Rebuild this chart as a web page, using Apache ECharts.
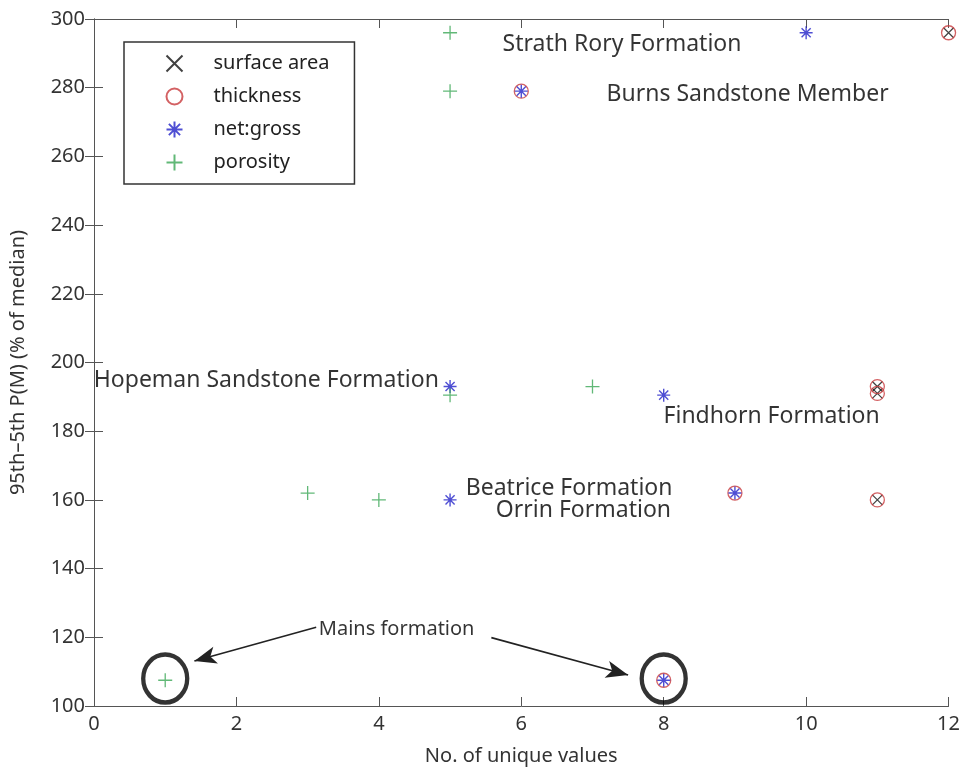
<!DOCTYPE html>
<html>
<head>
<meta charset="utf-8">
<script src="https://cdn.jsdelivr.net/npm/echarts@6/dist/echarts.min.js"></script>
<style>
  html, body { margin: 0; padding: 0; background: #fff; }
  #chart { width: 963px; height: 771px; }
</style>
</head>
<body>
<div id="chart"></div>
<script>
// 数据
var surfaceX = [11, 11, 11, 12];
var surfaceY = [160, 191, 193, 296];
var thicknessX = [6, 8, 9, 11, 11, 11, 12];
var thicknessY = [279, 107.5, 162, 160, 191, 193, 296];
var netGrossX = [5, 5, 6, 8, 8, 9, 10];
var netGrossY = [160, 193, 279, 107.5, 190.5, 162, 296];
var porosityX = [1, 3, 4, 5, 5, 5, 7];
var porosityY = [107.5, 162, 160, 190.5, 279, 296, 193];

// 注释文字
var labelTexts = ["Strath Rory Formation", "Burns Sandstone Member", "Hopeman Sandstone Formation",
    "Findhorn Formation", "Beatrice Formation", "Orrin Formation", "Mains formation"];
var labelX = [5.73, 7.19, 4.85, 11.04, 8.13, 8.11, 3.15];
var labelY = [292.5, 278, 194.9, 184.2, 163.3, 156.9, 122.4];
var labelSide = ["right", "right", "left", "left", "left", "left", "right"];

// Mains formation 圈和箭头
var mainsX = [1, 8];
var mainsY = [108, 108];
var arrowFrom = [[3.12, 122.9], [5.58, 119.9]];
var arrowTo = [[1.41, 113.1], [7.5, 109]];

function pairs(xs, ys) {
    var out = [];
    for (var i = 0; i < xs.length; i++) {
        out.push([xs[i], ys[i]]);
    }
    return out;
}

var symX = 'path://M0,0L10,10M10,0L0,10';
var symPlus = 'path://M5,0L5,10M0,5L10,5';
var symStar = 'path://M5,0L5,10M0,5L10,5M1.5,1.5L8.5,8.5M8.5,1.5L1.5,8.5';

var labelData = [];
for (var i = 0; i < labelTexts.length; i++) {
    var isMains = labelTexts[i] == "Mains formation";
    labelData.push({
        value: [labelX[i], labelY[i]],
        name: labelTexts[i],
        label: {
            position: labelSide[i],
            fontSize: isMains ? 20 : 23
        }
    });
}

var arrowData = [];
for (var j = 0; j < arrowFrom.length; j++) {
    arrowData.push([{ coord: arrowFrom[j] }, { coord: arrowTo[j] }]);
}

var axisLineStyle = { color: '#555', width: 1 };
var font = 'Noto Sans';

var chart = echarts.init(document.getElementById("chart"));
var option = {
    animation: false,
    backgroundColor: '#fff',
    grid: { left: 89, top: 19, right: 13, bottom: 63, containLabel: false },
    legend: {
        data: ['surface area', 'thickness', 'net:gross', 'porosity'],
        orient: 'vertical',
        left: 124,
        top: 42,
        selectedMode: false,
        backgroundColor: '#fff',
        borderColor: '#333',
        borderWidth: 1.5,
        padding: [11, 25, 11, 40],
        itemWidth: 16,
        itemHeight: 16,
        itemGap: 12,
        textStyle: { fontFamily: font, fontSize: 20, color: '#222', lineHeight: 20, padding: [0, 0, 0, 26] }
    },
    xAxis: [
        {
            type: 'value', min: 0, max: 12, interval: 2, position: 'bottom',
            name: 'No. of unique values', nameLocation: 'middle', nameGap: 40,
            nameTextStyle: { fontFamily: font, fontSize: 20, color: '#333' },
            axisLine: { lineStyle: axisLineStyle },
            axisTick: { inside: true, length: 9, lineStyle: axisLineStyle },
            axisLabel: { fontFamily: font, fontSize: 20, color: '#333', margin: 8 },
            splitLine: { show: false }
        },
        {
            type: 'value', min: 0, max: 12, interval: 2, position: 'top',
            axisLine: { lineStyle: axisLineStyle },
            axisTick: { inside: true, length: 9, lineStyle: axisLineStyle },
            axisLabel: { show: false },
            splitLine: { show: false }
        }
    ],
    yAxis: [
        {
            type: 'value', min: 100, max: 300, interval: 20, position: 'left',
            name: '95th\u20135th P(M) (% of median)', nameLocation: 'middle', nameGap: 66,
            nameTextStyle: { fontFamily: font, fontSize: 20, color: '#333' },
            axisLine: { lineStyle: axisLineStyle },
            axisTick: { inside: true, length: 9, lineStyle: axisLineStyle },
            axisLabel: { fontFamily: font, fontSize: 20, color: '#333', margin: 9 },
            splitLine: { show: false }
        },
        {
            type: 'value', min: 100, max: 300, interval: 20, position: 'right',
            axisLine: { lineStyle: axisLineStyle },
            axisTick: { inside: true, length: 9, lineStyle: axisLineStyle },
            axisLabel: { show: false },
            splitLine: { show: false }
        }
    ],
    series: [
        {
            name: 'mains', type: 'scatter', silent: true, z: 1,
            symbol: 'circle', symbolSize: [44, 48],
            itemStyle: { color: 'none', borderColor: '#000', borderWidth: 4.5 },
            data: pairs(mainsX, mainsY),
            markLine: {
                silent: true,
                symbol: ['none', 'arrow'],
                symbolSize: [13, 22],
                label: { show: false },
                lineStyle: { color: '#222', width: 1.6, type: 'solid' },
                data: arrowData
            }
        },
        {
            name: 'surface area', type: 'scatter', silent: true, z: 2,
            symbol: symX, symbolSize: 10,
            itemStyle: { color: 'none', borderColor: '#111', borderWidth: 1.2 },
            data: pairs(surfaceX, surfaceY)
        },
        {
            name: 'thickness', type: 'scatter', silent: true, z: 3,
            symbol: 'circle', symbolSize: 14,
            itemStyle: { color: 'none', borderColor: '#c8393c', borderWidth: 1.3 },
            data: pairs(thicknessX, thicknessY)
        },
        {
            name: 'net:gross', type: 'scatter', silent: true, z: 4,
            symbol: symStar, symbolSize: 13,
            itemStyle: { color: 'none', borderColor: '#2222c8', borderWidth: 1.4 },
            data: pairs(netGrossX, netGrossY)
        },
        {
            name: 'porosity', type: 'scatter', silent: true, z: 5,
            symbol: symPlus, symbolSize: 14,
            itemStyle: { color: 'none', borderColor: '#3aa655', borderWidth: 1.3 },
            data: pairs(porosityX, porosityY)
        },
        {
            name: 'labels', type: 'scatter', silent: true, z: 6,
            symbolSize: 1,
            itemStyle: { color: 'transparent' },
            label: { show: true, distance: 0, color: '#000', fontFamily: font, formatter: '{b}' },
            data: labelData
        }
    ]
};
chart.setOption(option);
</script>
</body>
</html>
